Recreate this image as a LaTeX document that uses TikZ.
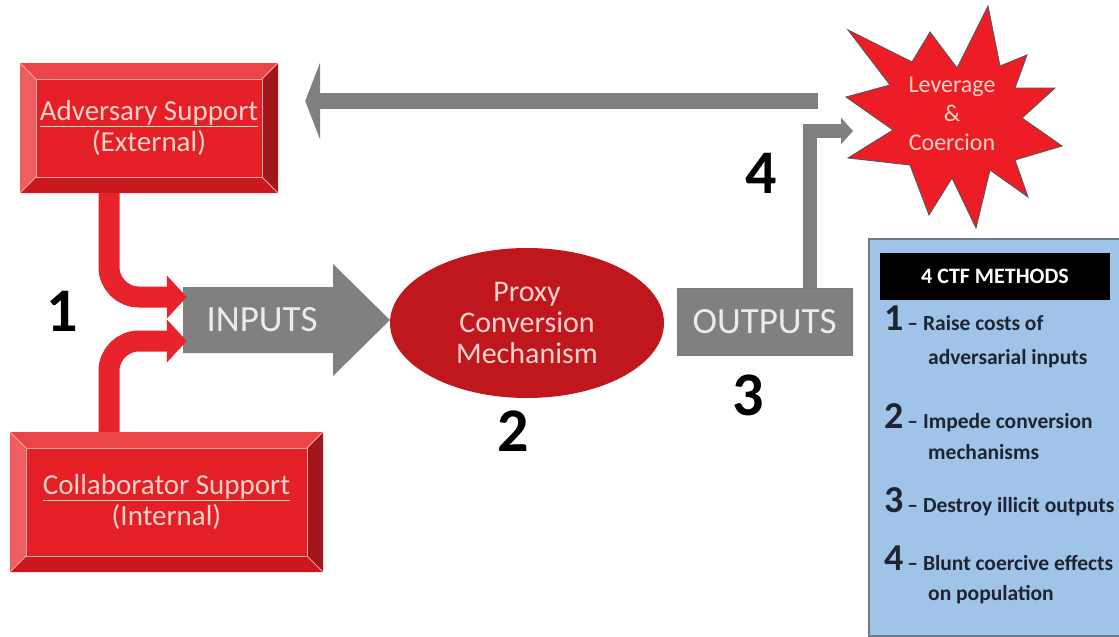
\documentclass[tikz,border=0pt]{standalone}
\usepackage{fontspec}
\setmainfont{Carlito}
\usetikzlibrary{arrows.meta,calc,shapes.geometric}

\definecolor{boxface}{HTML}{E41F26}
\definecolor{bevtop}{HTML}{EC4549}
\definecolor{bevleft}{HTML}{EF5F61}
\definecolor{bevright}{HTML}{A3161C}
\definecolor{bevbot}{HTML}{C9191F}
\definecolor{bevline}{HTML}{F5A3A3}
\definecolor{pinktext}{HTML}{FBD3CB}
\definecolor{flowred}{HTML}{E8232B}
\definecolor{mechred}{HTML}{C0171F}
\definecolor{flowgrey}{HTML}{808080}
\definecolor{starred}{HTML}{EE1C24}
\definecolor{panelblue}{HTML}{9FC4E7}
\definecolor{paneledge}{HTML}{6E7C8A}
\definecolor{listink}{HTML}{1E2433}

\begin{document}
\begin{tikzpicture}[x=1pt,y=-1pt,
  bevelbox/.style={rectangle, fill=boxface, inner sep=0pt, align=center,
    text=pinktext, font=\fontsize{29}{31}\selectfont,
    path picture={
      \path (path picture bounding box.north west) coordinate (pnw)
            (path picture bounding box.south east) coordinate (pse);
      % four bevelled edges
      \fill[bevtop] (pnw) -- (pnw -| pse) -- ($(pnw -| pse)+(-16,16)$)
                    -- ($(pnw)+(16,16)$) -- cycle;
      \fill[bevbot] (pse -| pnw) -- (pse) -- ($(pse)+(-16,-16)$)
                    -- ($(pse -| pnw)+(16,-16)$) -- cycle;
      \fill[bevleft] (pnw) -- ($(pnw)+(16,16)$) -- ($(pse -| pnw)+(16,-16)$)
                    -- (pse -| pnw) -- cycle;
      \fill[bevright] (pnw -| pse) -- (pse) -- ($(pse)+(-16,-16)$)
                    -- ($(pnw -| pse)+(-16,16)$) -- cycle;
      % light creases of the bevel
      \draw[bevline, line width=1pt] ($(pnw)+(16,16)$) rectangle ($(pse)+(-16,-16)$);
      \draw[bevline, line width=0.8pt] (pnw) -- ($(pnw)+(16,16)$)
            (pnw -| pse) -- ($(pnw -| pse)+(-16,16)$)
            (pse) -- ($(pse)+(-16,-16)$)
            (pse -| pnw) -- ($(pse -| pnw)+(16,-16)$);
    }},
  redflow/.style={draw=flowred, line width=21pt, rounded corners=30pt,
    -{Triangle[length=20pt,width=42pt]}},
  greyflow/.style={draw=flowgrey, line width=14pt,
    -{Triangle[length=12pt,width=26pt]}},
  backflow/.style={draw=flowgrey, line width=16pt,
    -{Triangle[length=15pt,width=77pt]}},
  bignum/.style={font=\fontsize{62}{62}\selectfont\bfseries, text=black, inner sep=0pt},
  flowlabel/.style={text=white!92!black, font=\fontsize{37}{40}\selectfont, inner sep=0pt},
  listline/.style={anchor=base west, inner sep=0pt, text=listink,
    font=\fontsize{21.5}{24}\selectfont\bfseries},
]
\useasboundingbox (0,0) rectangle (1119,637);

% support sources
\node[bevelbox, minimum width=258pt, minimum height=130pt] (adv) at (149,128)
  {\underline{Adversary Support}\\(External)};
\node[bevelbox, minimum width=313pt, minimum height=140pt] (collab) at (166.5,502)
  {\underline{Collaborator Support}\\(Internal)};

% INPUTS block arrow
\fill[flowgrey] (183,287) -- (333,287) -- (333,264) -- (390,320) -- (333,376)
  -- (333,353) -- (183,353) -- cycle;
\node[flowlabel, minimum width=150pt, minimum height=66pt] (inputs) at (262,320) {INPUTS};

% feeds into the inputs
\draw[redflow] ($(adv.south)+(-40,0)$) |- ($(inputs.west)+(0,-23)$);
\draw[redflow] ($(collab.north)+(-57.5,0)$) |- ($(inputs.west)+(0,21)$);

% conversion mechanism
\node[ellipse, fill=mechred, minimum width=274pt, minimum height=150pt, inner sep=0pt,
  align=center, text=pinktext, font=\fontsize{30}{31}\selectfont] (mech) at (527,323)
  {Proxy\\Conversion\\Mechanism};

% outputs
\node[rectangle, fill=flowgrey, draw=paneledge, line width=0.8pt,
  minimum width=175pt, minimum height=67pt, flowlabel] (outputs) at (764.5,321.5) {OUTPUTS};

% leverage star
\fill[starred, draw=black!65, line width=0.9pt]
  (930,32) -- (957,68) -- (988,6) -- (1000,66) -- (1027,55) -- (1015,88)
  -- (1055,88) -- (1022,118) -- (1062,146) -- (1015,160) -- (1028,197)
  -- (990,170) -- (976,228) -- (952,178) -- (929,215) -- (910,165)
  -- (848,158) -- (893,130) -- (846,97) -- (890,85) -- (848,30)
  -- (912,62) -- cycle;
\node[align=center, text=pinktext, font=\fontsize{24}{29}\selectfont, inner sep=0pt]
  (star) at (952,114) {Leverage\\\&\\Coercion};
\coordinate (starin) at (853,131);
\coordinate (backstart) at (818,101);

% outputs feed the star, the star feeds back to the adversary
\draw[greyflow] ($(outputs.north)+(45.5,0)$) |- (starin);
\draw[backflow] (backstart) -- ($(adv.east |- backstart)+(27,0)$);

% step numbers
\node[bignum] (n1) at (62,311) {1};
\node[bignum] (n2) at (513,431) {2};
\node[bignum] (n3) at (748,395) {3};
\node[bignum] (n4) at (761,173) {4};

% methods panel, running off the right edge
\node[rectangle, fill=panelblue, draw=paneledge, line width=1.5pt, anchor=north west,
  minimum width=280pt, minimum height=397pt] (panel) at (868,238) {};
\node[fill=black, text=white, font=\fontsize{22}{26}\selectfont\bfseries,
  minimum width=230pt, minimum height=47pt, inner sep=0pt] (hdr) at (995,276.5)
  {4 CTF METHODS};

\node[listline] (m1) at (884,330)
  {{\fontsize{38}{38}\selectfont 1}\hspace{4pt}– Raise costs of};
\node[listline] (m1b) at (928,364) {adversarial inputs};
\node[listline] (m2) at (884,428)
  {{\fontsize{38}{38}\selectfont 2}\hspace{4pt}– Impede conversion};
\node[listline] (m2b) at (928,459) {mechanisms};
\node[listline] (m3) at (884,512)
  {{\fontsize{38}{38}\selectfont 3}\hspace{4pt}– Destroy illicit outputs};
\node[listline] (m4) at (884,570)
  {{\fontsize{38}{38}\selectfont 4}\hspace{4pt}– Blunt coercive effects};
\node[listline] (m4b) at (928,600) {on population};
\end{tikzpicture}
\end{document}
